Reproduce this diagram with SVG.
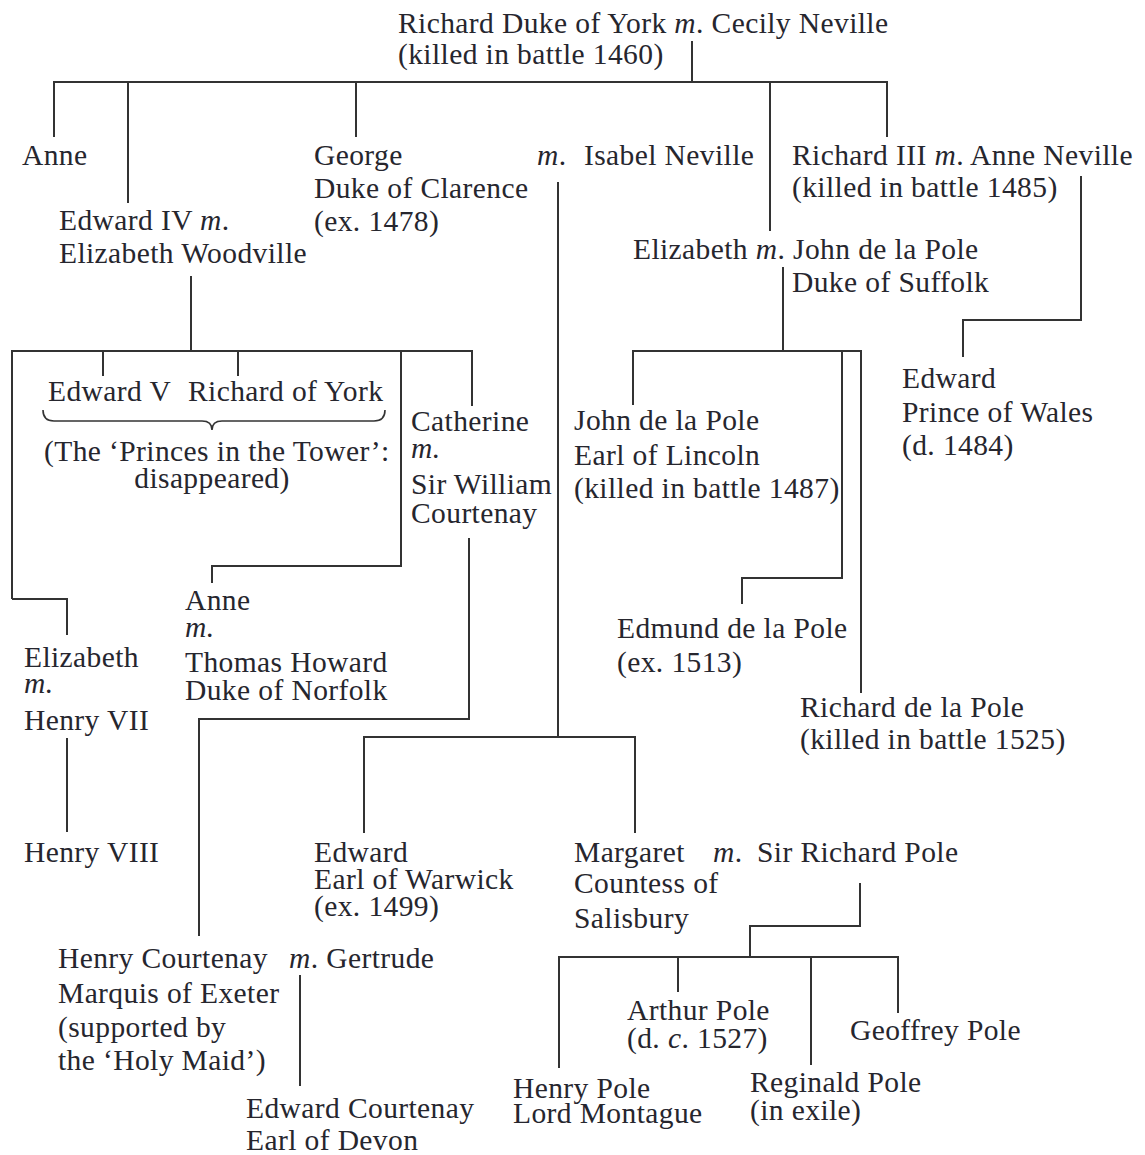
<svg xmlns="http://www.w3.org/2000/svg" width="1145" height="1155" viewBox="0 0 1145 1155">
<style>
text{font-family:"Liberation Serif","Times New Roman",serif;font-size:29.5px;letter-spacing:0.4px;fill:#26262e}
.i{font-style:italic}
.c{fill:none;stroke:#333;stroke-width:2}
.b{fill:none;stroke:#333;stroke-width:1.6}
</style>
<rect width="1145" height="1155" fill="#fff"/>
<g id="connectors">
<path class="c" d="M692,41V82M54,137V82H887V137M128,82V203M356,82V137M770,82V231"/>
<path class="c" d="M558,182V737M364,833V737H635V833"/>
<path class="c" d="M1081,176V320H963V357"/>
<path class="c" d="M191,276V351M12,599V351H472V406M103,351V376M238,351V376M401,351V566H212V583M12,599H67V635"/>
<path class="c" d="M67,738V832"/>
<path class="c" d="M469,538V719H199V936"/>
<path class="c" d="M783,267V351M633,405V351H861V693M842,351V578H742V604"/>
<path class="c" d="M300,975V1086"/>
<path class="c" d="M860,883V926H750V957M559,1068V957H898V1013M678,957V992M811,957V1065"/>
<path class="b" d="M43,410Q43,421 54,421L202,421Q212,421 212,430Q212,421 222,421L374,421Q385,421 385,410"/>
</g>
<g id="richard-york"><text x="398" y="33">Richard Duke of York <tspan class="i">m</tspan>. Cecily Neville</text><text x="398" y="64">(killed in battle 1460)</text></g>
<g id="anne"><text x="22" y="165">Anne</text></g>
<g id="george"><text x="314" y="165">George</text><text x="314" y="198">Duke of Clarence</text><text x="314" y="231">(ex. 1478)</text></g>
<g id="isabel"><text x="537" y="165"><tspan class="i">m</tspan>.</text><text x="584" y="165">Isabel Neville</text></g>
<g id="richard-iii"><text x="792" y="165">Richard III <tspan class="i">m</tspan>. Anne Neville</text><text x="792" y="197">(killed in battle 1485)</text></g>
<g id="edward-iv"><text x="59" y="230">Edward IV <tspan class="i">m</tspan>.</text><text x="59" y="263">Elizabeth Woodville</text></g>
<g id="elizabeth-suffolk"><text x="633" y="259">Elizabeth <tspan class="i">m</tspan>. John de la Pole</text><text x="792" y="292">Duke of Suffolk</text></g>
<g id="princes"><text x="48" y="401">Edward V</text><text x="188" y="401">Richard of York</text><text x="44" y="461">(The ‘Princes in the Tower’:</text><text x="212" y="488" text-anchor="middle">disappeared)</text></g>
<g id="catherine"><text x="411" y="431">Catherine</text><text x="411" y="458" class="i">m.</text><text x="411" y="494">Sir William</text><text x="411" y="523">Courtenay</text></g>
<g id="john-lincoln"><text x="574" y="430">John de la Pole</text><text x="574" y="465">Earl of Lincoln</text><text x="574" y="498">(killed in battle 1487)</text></g>
<g id="edward-wales"><text x="902" y="388">Edward</text><text x="902" y="422">Prince of Wales</text><text x="902" y="455">(d. 1484)</text></g>
<g id="anne-howard"><text x="185" y="610">Anne</text><text x="185" y="637" class="i">m.</text><text x="185" y="672">Thomas Howard</text><text x="185" y="700">Duke of Norfolk</text></g>
<g id="elizabeth-henry"><text x="24" y="667">Elizabeth</text><text x="24" y="693" class="i">m.</text><text x="24" y="730">Henry VII</text></g>
<g id="edmund"><text x="617" y="638">Edmund de la Pole</text><text x="617" y="672">(ex. 1513)</text></g>
<g id="richard-pole"><text x="800" y="717">Richard de la Pole</text><text x="800" y="749">(killed in battle 1525)</text></g>
<g id="henry-viii"><text x="24" y="862">Henry VIII</text></g>
<g id="edward-warwick"><text x="314" y="862">Edward</text><text x="314" y="889">Earl of Warwick</text><text x="314" y="916">(ex. 1499)</text></g>
<g id="margaret"><text x="574" y="862">Margaret</text><text x="574" y="893">Countess of</text><text x="574" y="928">Salisbury</text></g>
<g id="sir-richard-pole"><text x="713" y="862"><tspan class="i">m</tspan>.</text><text x="757" y="862">Sir Richard Pole</text></g>
<g id="henry-courtenay"><text x="58" y="968">Henry Courtenay</text><text x="58" y="1003">Marquis of Exeter</text><text x="58" y="1037">(supported by</text><text x="58" y="1070">the ‘Holy Maid’)</text></g>
<g id="gertrude"><text x="289" y="968"><tspan class="i">m</tspan>. Gertrude</text></g>
<g id="edward-courtenay"><text x="246" y="1118">Edward Courtenay</text><text x="246" y="1150">Earl of Devon</text></g>
<g id="arthur-pole"><text x="627" y="1020">Arthur Pole</text><text x="627" y="1048">(d. <tspan class="i">c</tspan>. 1527)</text></g>
<g id="geoffrey-pole"><text x="850" y="1040">Geoffrey Pole</text></g>
<g id="henry-pole"><text x="513" y="1098">Henry Pole</text><text x="513" y="1123">Lord Montague</text></g>
<g id="reginald-pole"><text x="750" y="1092">Reginald Pole</text><text x="750" y="1120">(in exile)</text></g>
</svg>
